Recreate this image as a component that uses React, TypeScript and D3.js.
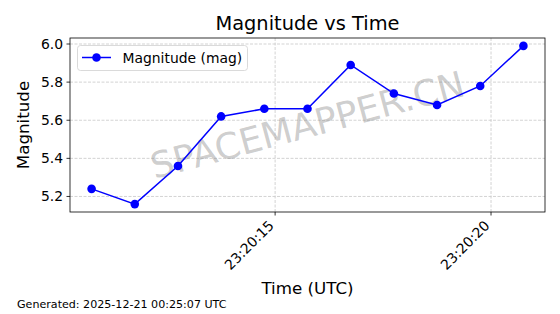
import React from "react";
import * as d3 from "d3";

const times: string[] = [
  "2025-12-20T23:20:10.750Z",
  "2025-12-20T23:20:11.750Z",
  "2025-12-20T23:20:12.750Z",
  "2025-12-20T23:20:13.750Z",
  "2025-12-20T23:20:14.750Z",
  "2025-12-20T23:20:15.750Z",
  "2025-12-20T23:20:16.750Z",
  "2025-12-20T23:20:17.750Z",
  "2025-12-20T23:20:18.750Z",
  "2025-12-20T23:20:19.750Z",
  "2025-12-20T23:20:20.750Z",
];
const magnitudes: number[] = [5.24, 5.16, 5.36, 5.62, 5.66, 5.66, 5.89, 5.74, 5.68, 5.78, 5.99];
const xTicks: string[] = ["2025-12-20T23:20:15Z", "2025-12-20T23:20:20Z"];
const yTicks: number[] = [5.2, 5.4, 5.6, 5.8, 6.0];

const W = 560, H = 314;
const L = 70, R = 545, T = 38, B = 212;
const FONT = "DejaVu Sans, sans-serif";

export default function App() {
  const dates = times.map((t) => new Date(t));
  const t0 = d3.min(dates)!.getTime();
  const t1 = d3.max(dates)!.getTime();
  const tp = (t1 - t0) * 0.05;
  const x = d3.scaleUtc().domain([new Date(t0 - tp), new Date(t1 + tp)]).range([L, R]);
  const ymin = d3.min(magnitudes)!, ymax = d3.max(magnitudes)!;
  const yp = (ymax - ymin) * 0.05;
  const y = d3.scaleLinear().domain([ymin - yp, ymax + yp]).range([B, T]);
  const fmt = d3.utcFormat("%H:%M:%S");
  const line = d3.line<number>().x((_, i) => x(dates[i])).y((d) => y(d));

  return (
    <svg width={W} height={H} style={{ position: "absolute", left: 0, top: 0, background: "#fff" }} fontFamily={FONT}>
      <rect x={0} y={0} width={W} height={H} fill="#fff" />
      {/* grid */}
      {yTicks.map((v) => (
        <line key={"gy" + v} x1={L} x2={R} y1={y(v)} y2={y(v)} stroke="#c8c8c8" strokeWidth={0.8} strokeDasharray="3,1.5" />
      ))}
      {xTicks.map((t) => (
        <line key={"gx" + t} x1={x(new Date(t))} x2={x(new Date(t))} y1={T} y2={B} stroke="#c8c8c8" strokeWidth={0.8} strokeDasharray="3,1.5" />
      ))}
      {/* watermark */}
      <text
        x={(L + R) / 2}
        y={(T + B) / 2}
        transform={`rotate(-15 ${(L + R) / 2} ${(T + B) / 2})`}
        textAnchor="middle"
        dominantBaseline="central"
        fontSize={36}
        fill="#808080"
        fillOpacity={0.4}
      >
        SPACEMAPPER.CN
      </text>
      {/* series */}
      <path d={line(magnitudes) || ""} fill="none" stroke="#0000ff" strokeWidth={1.5} />
      {magnitudes.map((m, i) => (
        <circle key={i} cx={x(dates[i])} cy={y(m)} r={4.3} fill="#0000ff" />
      ))}
      {/* frame */}
      <rect x={L} y={T} width={R - L} height={B - T} fill="none" stroke="#000" strokeWidth={0.8} />
      {/* y ticks */}
      {yTicks.map((v) => (
        <g key={"ty" + v}>
          <line x1={L - 3.5} x2={L} y1={y(v)} y2={y(v)} stroke="#000" strokeWidth={0.8} />
          <text x={L - 7} y={y(v)} textAnchor="end" dominantBaseline="central" fontSize={13.9} fill="#000">
            {v.toFixed(1)}
          </text>
        </g>
      ))}
      {/* x ticks */}
      {xTicks.map((t) => {
        const px = x(new Date(t));
        return (
          <g key={"tx" + t}>
            <line x1={px} x2={px} y1={B} y2={B + 3.5} stroke="#000" strokeWidth={0.8} />
            <text
              transform={`translate(${px - 4},${B + 11}) rotate(-45)`}
              textAnchor="end"
              dominantBaseline="central"
              fontSize={13.9}
              fill="#000"
            >
              {fmt(new Date(t))}
            </text>
          </g>
        );
      })}
      {/* labels */}
      <text x={(L + R) / 2} y={30} textAnchor="middle" fontSize={19.4} fill="#000">
        Magnitude vs Time
      </text>
      <text x={(L + R) / 2} y={294} textAnchor="middle" fontSize={16.7} fill="#000">
        Time (UTC)
      </text>
      <text transform={`translate(29,${(T + B) / 2}) rotate(-90)`} textAnchor="middle" fontSize={16.7} fill="#000">
        Magnitude
      </text>
      <text x={17} y={308} fontSize={11.1} fill="#000">
        Generated: 2025-12-21 00:25:07 UTC
      </text>
      {/* legend */}
      <rect x={77.5} y={45.5} width={170} height={25} rx={3} fill="#fff" fillOpacity={0.8} stroke="#d0d0d0" strokeWidth={0.8} />
      <line x1={82} x2={111} y1={57.5} y2={57.5} stroke="#0000ff" strokeWidth={1.5} />
      <circle cx={96.5} cy={57.5} r={4.3} fill="#0000ff" />
      <text x={122.5} y={62.5} fontSize={13.9} fill="#000">
        Magnitude (mag)
      </text>
    </svg>
  );
}
